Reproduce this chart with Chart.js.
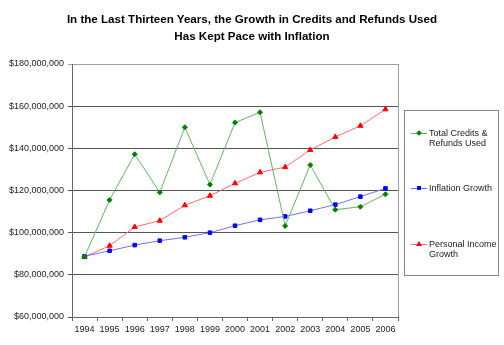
<!DOCTYPE html>
<html>
<head>
<meta charset="utf-8">
<script src="https://cdn.jsdelivr.net/npm/chart.js@4"></script>
<style>
    body { margin: 0; background: #fff; }
    #wrap { position: relative; width: 504px; height: 345px; }
    #chart { position: absolute; left: 0; top: 0; }
    #title {
        position: absolute; left: 0; top: 10px; width: 504px; text-align: center;
        font-family: "Liberation Sans", Arial, sans-serif; font-weight: bold;
        font-size: 11.6px; line-height: 17px; color: #000;
    }
    #legend {
        position: absolute; left: 404px; top: 110px; width: 93px; height: 164px;
        border: 1px solid #888; font-family: "Liberation Sans", Arial, sans-serif;
        font-size: 9px; color: #222; line-height: 10px;
    }
    .item { position: absolute; left: 0; width: 93px; }
    .sample { position: absolute; left: 6px; width: 16px; height: 1px; }
    .mark { position: absolute; }
    .label { position: absolute; left: 24px; white-space: nowrap; }
</style>
</head>
<body>
<div id="wrap">
    <canvas id="chart" width="504" height="345"></canvas>
    <div id="title"></div>
    <div id="legend"></div>
</div>
<script>
// Chart data
const years = ['1994', '1995', '1996', '1997', '1998', '1999', '2000',
    '2001', '2002', '2003', '2004', '2005', '2006'];

const creditsRefunds = [88.6, 115.5, 137.2, 119.1, 150.0, 122.8, 152.2,
    157.1, 103.2, 132.1, 110.9, 112.3, 118.2].map(v => v * 1e6);

const inflationGrowth = [88.8, 91.4, 94.1, 96.2, 97.8, 100.0, 103.3,
    106.1, 107.7, 110.4, 113.3, 117.1, 121.0].map(v => v * 1e6);

const personalIncome = [88.5, 93.8, 102.7, 105.7, 113.0, 117.5, 123.4,
    128.6, 131.1, 139.2, 145.4, 150.7, 158.5].map(v => v * 1e6);

const seriesNames = [['Total Credits &', 'Refunds Used'], ['Inflation Growth'], ['Personal Income', 'Growth']];

const titleLines = ['In the Last Thirteen Years, the Growth in Credits and Refunds Used',
    'Has Kept Pace with Inflation'];

const FONT = '"Liberation Sans", Arial, sans-serif';

// Title
document.getElementById('title').innerHTML = titleLines.join('<br>');

// Right edge of the plot area
const plotBorder = {
    id: 'plotBorder',
    beforeDatasetsDraw(chart) {
        const a = chart.chartArea;
        const c = chart.ctx;
        c.save();
        c.strokeStyle = '#a0a0a0';
        c.lineWidth = 1;
        c.beginPath();
        c.moveTo(Math.round(a.right) + 0.5, a.top);
        c.lineTo(Math.round(a.right) + 0.5, a.bottom);
        c.stroke();
        c.restore();
    }
};

const ctx = document.getElementById('chart').getContext('2d');
const chart = new Chart(ctx, {
    type: 'line',
    data: {
        labels: years,
        datasets: [{
            label: seriesNames[0].join(' '),
            data: creditsRefunds,
            borderColor: '#62b562',
            backgroundColor: '#008000',
            pointBorderColor: '#008000',
            pointStyle: 'rectRot',
            pointRadius: 2.5,
            borderWidth: 1,
            tension: 0
        }, {
            label: seriesNames[1].join(' '),
            data: inflationGrowth,
            borderColor: '#7070ff',
            backgroundColor: '#0000ff',
            pointBorderColor: '#0000ff',
            pointStyle: 'rect',
            pointRadius: 2.5,
            borderWidth: 1,
            tension: 0
        }, {
            label: seriesNames[2].join(' '),
            data: personalIncome,
            borderColor: '#ff6a6a',
            backgroundColor: '#ff0000',
            pointBorderColor: '#ff0000',
            pointStyle: 'triangle',
            pointRadius: 3,
            borderWidth: 1,
            tension: 0
        }]
    },
    options: {
        responsive: false,
        animation: false,
        layout: { padding: { left: 0, right: 106, top: 64, bottom: 0 } },
        plugins: {
            legend: { display: false },
            tooltip: { enabled: false },
            title: { display: false }
        },
        scales: {
            x: {
                offset: true,
                grid: { offset: true, drawOnChartArea: false, tickLength: 4, color: '#666' },
                border: { color: '#666' },
                ticks: { color: '#222', font: { family: FONT, size: 9 }, padding: 3, maxRotation: 0 },
                afterFit: s => { s.height = 28; }
            },
            y: {
                min: 60000000,
                max: 180000000,
                ticks: {
                    stepSize: 20000000,
                    color: '#222',
                    font: { family: FONT, size: 9 },
                    padding: 4,
                    callback: v => '$' + v.toLocaleString('en-US')
                },
                grid: {
                    tickLength: 4,
                    color: c => c.tick && c.tick.value === 180000000 ? '#a0a0a0' : '#555'
                },
                border: { color: '#666' },
                afterFit: s => { s.width = 72; }
            }
        }
    },
    plugins: [plotBorder]
});

// HTML legend
const legendRows = [
    { top: 17, line: '#62b562', color: '#008000', shape: 'diamond' },
    { top: 72, line: '#7070ff', color: '#0000ff', shape: 'square' },
    { top: 128, line: '#ff6a6a', color: '#ff0000', shape: 'triangle' }
];
const legend = document.getElementById('legend');
legendRows.forEach((row, i) => {
    const item = document.createElement('div');
    item.className = 'item';
    item.style.top = row.top + 'px';

    const sample = document.createElement('div');
    sample.className = 'sample';
    sample.style.top = '5px';
    sample.style.background = row.line;
    item.appendChild(sample);

    const mark = document.createElement('div');
    mark.className = 'mark';
    if (row.shape === 'triangle') {
        mark.style.left = '11px';
        mark.style.top = '2px';
        mark.style.borderLeft = '3px solid transparent';
        mark.style.borderRight = '3px solid transparent';
        mark.style.borderBottom = '5px solid ' + row.color;
    } else {
        mark.style.left = '12px';
        mark.style.top = '3px';
        mark.style.width = '4px';
        mark.style.height = '4px';
        mark.style.background = row.color;
        if (row.shape === 'diamond') mark.style.transform = 'rotate(45deg)';
    }
    item.appendChild(mark);

    const label = document.createElement('div');
    label.className = 'label';
    label.style.top = '0px';
    label.innerHTML = seriesNames[i].map(t => t.replace('&', '&amp;')).join('<br>');
    item.appendChild(label);

    legend.appendChild(item);
});
</script>
</body>
</html>
